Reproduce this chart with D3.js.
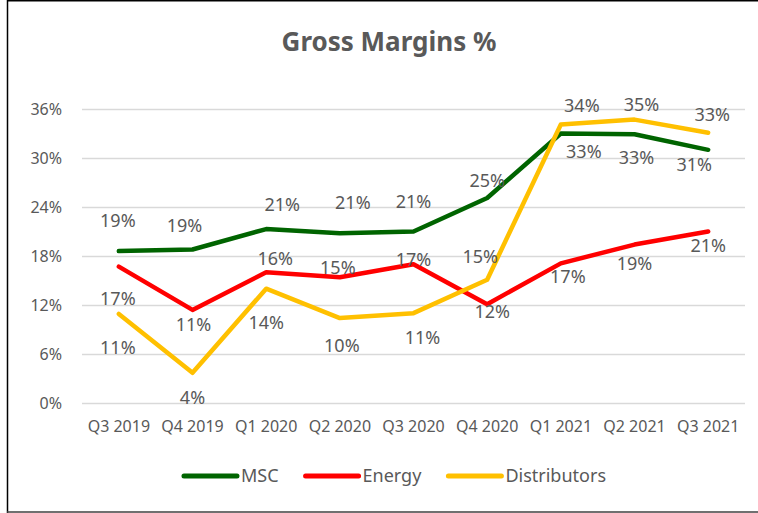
<!DOCTYPE html>
<html lang="en">
<head>
<meta charset="UTF-8">
<title>Gross Margins %</title>
<style>
    html,body{
        margin:0;
        height:100%;
        overflow:hidden;
        background:#fff;
    }
    text{ font-family:"Noto Sans", sans-serif; fill:#595959; }
</style>
</head>
<body>
<svg id="svg"></svg>
<script src="https://d3js.org/d3.v7.min.js"></script>
<script>
    // data (percent)
    const quarters = ["Q3 2019","Q4 2019","Q1 2020","Q2 2020","Q3 2020","Q4 2020","Q1 2021","Q2 2021","Q3 2021"];
    const msc = [18.6, 18.8, 21.3, 20.8, 21.0, 25.1, 33.0, 32.9, 31.0];
    const energy = [16.7, 11.4, 16.0, 15.4, 17.0, 12.1, 17.1, 19.4, 21.0];
    const distributors = [10.9, 3.7, 14.0, 10.4, 11.0, 15.1, 34.1, 34.7, 33.1];
    const yTicks = [0, 6, 12, 18, 24, 30, 36];

    // label nudges [dx, dy] relative to the point
    const mscLabelPos = [[-1,-30],[-8,-24],[16,-24],[13,-30],[0,-30],[0,-17],[23,18],[2,23],[-14,15]];
    const energyLabelPos = [[-1,32],[1,15],[9,-14],[-2,-10],[0,-4],[5,8],[7,13],[0,19],[0,14]];
    const distLabelPos = [[-1,34],[0,25],[0,34],[2,28],[9,25],[-7,-23],[21,-19],[7,-15],[4,-18]];

    const series = [
        { name: "MSC", values: msc, color: "#006400", labels: mscLabelPos },
        { name: "Energy", values: energy, color: "#ff0000", labels: energyLabelPos },
        { name: "Distributors", values: distributors, color: "#ffc000", labels: distLabelPos }
    ];

    const width = 758, height = 513;
    const svg = d3.select("#svg").attr("width", width).attr("height", height);

    // frame
    svg.append("line").attr("x1", 7.5).attr("x2", 7.5).attr("y1", 0).attr("y2", height)
        .attr("stroke", "#000").attr("stroke-width", 1.5);
    svg.append("line").attr("x1", 7).attr("x2", width).attr("y1", 0.75).attr("y2", 0.75)
        .attr("stroke", "#000").attr("stroke-width", 1.5);
    svg.append("line").attr("x1", 7).attr("x2", width).attr("y1", 512).attr("y2", 512)
        .attr("stroke", "#404040").attr("stroke-width", 1.5);

    const plotLeft = 82, plotRight = 745, plotTop = 109, plotBottom = 403;

    const x = d3.scaleBand().domain(quarters).range([plotLeft, plotRight]);
    const y = d3.scaleLinear().domain([0, 36]).range([plotBottom, plotTop]);
    const px = i => x(quarters[i]) + x.bandwidth() / 2;

    // title
    svg.append("text")
        .attr("x", 389).attr("y", 51)
        .attr("text-anchor", "middle")
        .style("font-size", "26px").style("font-weight", "bold")
        .text("Gross Margins %");

    // y axis + gridlines
    const yAxis = svg.append("g")
        .attr("transform", `translate(${plotLeft},0)`)
        .call(d3.axisLeft(y).tickValues(yTicks).tickSize(-(plotRight - plotLeft)).tickPadding(20).tickFormat(d => d + "%"));
    yAxis.select(".domain").remove();
    yAxis.selectAll("line").attr("stroke", "#d9d9d9").attr("stroke-width", 1.3);
    yAxis.selectAll("text").style("font-size", "16px").attr("fill", "#595959").attr("font-family", null);

    // x axis
    const xAxis = svg.append("g")
        .attr("transform", `translate(0,${plotBottom})`)
        .call(d3.axisBottom(x).tickSize(0).tickPadding(18));
    xAxis.select(".domain").remove();
    xAxis.selectAll("text").style("font-size", "16px").attr("fill", "#595959").attr("font-family", null);

    // lines
    const line = d3.line()
        .x((d, i) => px(i))
        .y(d => y(d));

    series.forEach(s => {
        svg.append("path")
            .datum(s.values)
            .attr("d", line)
            .attr("fill", "none")
            .attr("stroke", s.color)
            .attr("stroke-width", 4.5)
            .attr("stroke-linejoin", "round")
            .attr("stroke-linecap", "round");
    });

    // data labels
    series.forEach(s => {
        svg.append("g").selectAll("text")
            .data(s.values)
            .join("text")
            .attr("x", (d, i) => px(i) + s.labels[i][0])
            .attr("y", (d, i) => y(d) + s.labels[i][1])
            .attr("dy", "0.35em")
            .attr("text-anchor", "middle")
            .style("font-size", "18px")
            .text(d => Math.round(d) + "%");
    });

    // legend
    const legend = svg.append("g");
    let lx = 0;
    series.forEach((s, i) => {
        const item = legend.append("g").attr("transform", `translate(${lx},0)`);
        item.append("line")
            .attr("x1", 2).attr("x2", 55).attr("y1", 0).attr("y2", 0)
            .attr("stroke", s.color).attr("stroke-width", 5).attr("stroke-linecap", "round");
        const t = item.append("text")
            .attr("x", 59).attr("dy", "0.35em")
            .style("font-size", "18px")
            .text(s.name);
        lx += 59 + t.node().getComputedTextLength() + 25;
    });
    const legendW = lx - 25;
    legend.attr("transform", `translate(${394 - legendW / 2},476)`);
</script>
</body>
</html>
